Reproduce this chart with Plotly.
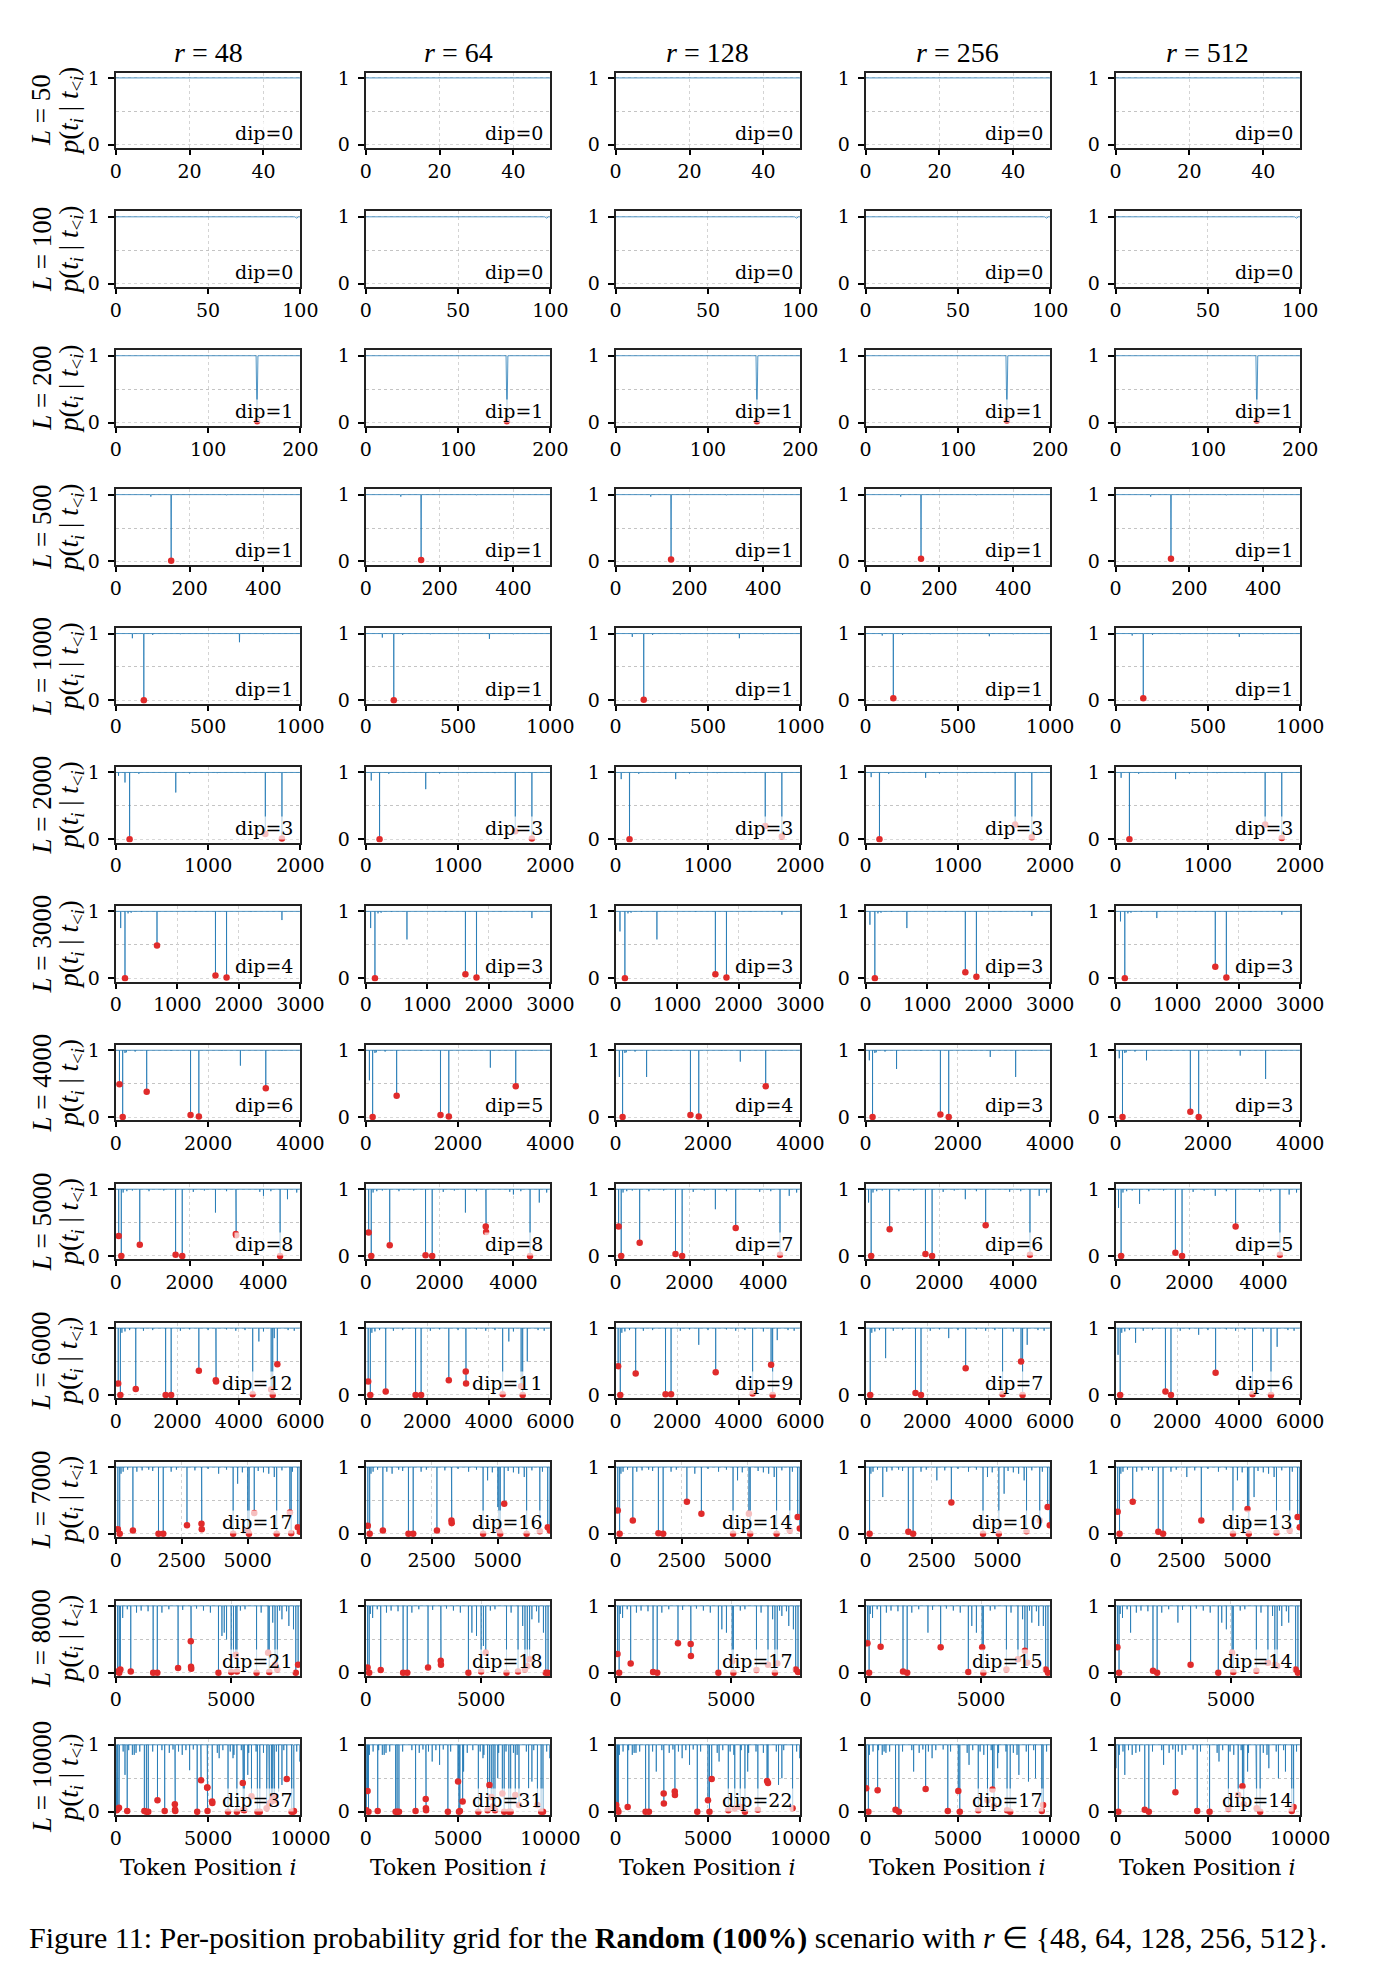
import plotly.graph_objects as go

# ---------------- data ----------------
R_VALUES = [48, 64, 128, 256, 512]
L_VALUES = [50, 100, 200, 500, 1000, 2000, 3000, 4000, 5000, 6000, 7000, 8000, 10000]
X_TICKS = [[0, 20, 40], [0, 50, 100], [0, 100, 200], [0, 200, 400], [0, 500, 1000],
           [0, 1000, 2000], [0, 1000, 2000, 3000], [0, 2000, 4000], [0, 2000, 4000],
           [0, 2000, 4000, 6000], [0, 2500, 5000], [0, 5000], [0, 5000, 10000]]
Y_TICKS = [0, 1]
DIP_COUNTS = [[0, 0, 0, 0, 0], [0, 0, 0, 0, 0], [1, 1, 1, 1, 1], [1, 1, 1, 1, 1], [1, 1, 1, 1, 1],
              [3, 3, 3, 3, 3], [4, 3, 3, 3, 3], [6, 5, 4, 3, 3], [8, 8, 7, 6, 5],
              [12, 11, 9, 7, 6], [17, 16, 14, 10, 13], [21, 18, 17, 15, 14], [37, 31, 22, 17, 14]]

# red-marked dips (position, probability) per column
DIPS_L50 = [[], [], [], [], []]
DIPS_L100 = [[], [], [], [], []]
DIPS_L200 = [[(153, 0.02)], [(153, 0.02)], [(153, 0.02)], [(153, 0.03)], [(153, 0.03)]]
DIPS_L500 = [[(150, 0.01)], [(150, 0.02)], [(150, 0.03)], [(150, 0.04)], [(150, 0.04)]]
DIPS_L1000 = [[(152, 0.0)], [(152, 0.0)], [(152, 0.01)], [(150, 0.03)], [(150, 0.03)]]
DIPS_L2000 = [[(150, 0.0), (1620, 0.08), (1800, 0.01)],
              [(150, 0.0), (1620, 0.12), (1800, 0.01)],
              [(150, 0.0), (1620, 0.2), (1800, 0.04)],
              [(150, 0.0), (1620, 0.22), (1800, 0.03)],
              [(150, 0.0), (1620, 0.22), (1800, 0.02)]]
DIPS_L3000 = [[(150, 0.0), (670, 0.49), (1620, 0.04), (1800, 0.01)],
              [(150, 0.0), (1620, 0.06), (1800, 0.01)],
              [(150, 0.0), (1620, 0.06), (1800, 0.01)],
              [(150, 0.0), (1620, 0.09), (1800, 0.02)],
              [(150, 0.0), (1620, 0.17), (1800, 0.01)]]
DIPS_L4000 = [[(80, 0.49), (150, 0.0), (670, 0.38), (1620, 0.03), (1800, 0.01), (3250, 0.43)],
              [(150, 0.0), (670, 0.32), (1620, 0.03), (1800, 0.01), (3250, 0.46)],
              [(150, 0.0), (1620, 0.03), (1800, 0.01), (3250, 0.46)],
              [(150, 0.0), (1620, 0.04), (1800, 0.0)],
              [(150, 0.0), (1620, 0.08), (1800, 0.0)]]
DIPS_L5000 = [[(80, 0.3), (150, 0.0), (650, 0.17), (1620, 0.02), (1800, 0.0), (3250, 0.33), (3260, 0.31), (4450, 0.0)],
              [(80, 0.35), (150, 0.0), (650, 0.16), (1620, 0.01), (1800, 0.0), (3250, 0.44), (3260, 0.36), (4450, 0.0)],
              [(80, 0.44), (150, 0.0), (650, 0.2), (1620, 0.03), (1800, 0.0), (3250, 0.42), (4450, 0.02)],
              [(150, 0.0), (650, 0.4), (1620, 0.03), (1800, 0.0), (3250, 0.46), (4450, 0.02)],
              [(150, 0.0), (1620, 0.05), (1800, 0.0), (3250, 0.44), (4450, 0.02)]]
DIPS_L6000 = [[(80, 0.17), (150, 0.0), (650, 0.09), (1620, 0.0), (1800, 0.0), (2700, 0.36), (3250, 0.22),
               (3260, 0.2), (4450, 0.01), (5050, 0.08), (5100, 0.0), (5250, 0.46)],
              [(80, 0.2), (150, 0.0), (650, 0.05), (1620, 0.0), (1800, 0.0), (2700, 0.22), (3250, 0.35),
               (3260, 0.17), (4450, 0.01), (5050, 0.13), (5100, 0.0)],
              [(80, 0.43), (150, 0.0), (650, 0.32), (1620, 0.01), (1800, 0.01), (3250, 0.34), (4450, 0.02),
               (5050, 0.45), (5100, 0.0)],
              [(150, 0.0), (1620, 0.03), (1800, 0.0), (3250, 0.4), (4450, 0.01), (5050, 0.5), (5100, 0.0)],
              [(150, 0.0), (1620, 0.05), (1800, 0.0), (3250, 0.33), (4450, 0.01), (5050, 0.0)]]
DIPS_L7000 = [[(80, 0.07), (150, 0.0), (650, 0.05), (1620, 0.0), (1800, 0.0), (2700, 0.13), (3250, 0.15),
               (3260, 0.07), (4450, 0.0), (5000, 0.05), (5050, 0.0), (5250, 0.31), (6100, 0.0), (6600, 0.32),
               (6650, 0.01), (6900, 0.1), (6980, 0.03)],
              [(80, 0.12), (150, 0.0), (650, 0.05), (1620, 0.0), (1800, 0.0), (2700, 0.05), (3250, 0.2),
               (3260, 0.16), (4450, 0.0), (5050, 0.05), (5100, 0.0), (5250, 0.45), (6100, 0.0), (6600, 0.04),
               (6900, 0.1), (6980, 0.05)],
              [(80, 0.35), (150, 0.0), (650, 0.2), (1620, 0.01), (1800, 0.0), (2700, 0.48), (3250, 0.3),
               (4450, 0.0), (5050, 0.3), (5100, 0.0), (6100, 0.0), (6600, 0.05), (6900, 0.25), (6980, 0.08)],
              [(150, 0.0), (1620, 0.03), (1800, 0.0), (3250, 0.47), (4450, 0.0), (5050, 0.0), (6100, 0.04),
               (6600, 0.2), (6900, 0.4), (6980, 0.13)],
              [(80, 0.33), (150, 0.0), (650, 0.48), (1620, 0.03), (1800, 0.0), (3250, 0.2), (4450, 0.0),
               (5000, 0.37), (5050, 0.0), (6100, 0.02), (6600, 0.05), (6900, 0.25), (6980, 0.1)]]
DIPS_L8000 = [[(80, 0.02), (150, 0.0), (200, 0.05), (650, 0.02), (1620, 0.0), (1800, 0.0), (2700, 0.07),
               (3250, 0.47), (3260, 0.09), (3270, 0.06), (4450, 0.0), (5000, 0.01), (5200, 0.27), (5250, 0.02),
               (6100, 0.0), (6600, 0.3), (6650, 0.01), (6900, 0.12), (7000, 0.05), (7800, 0.0), (7900, 0.12)],
              [(80, 0.08), (150, 0.0), (650, 0.04), (1620, 0.0), (1800, 0.0), (2700, 0.08), (3250, 0.18),
               (3260, 0.12), (4450, 0.0), (5000, 0.02), (5200, 0.3), (6100, 0.0), (6600, 0.02), (6900, 0.05),
               (7000, 0.1), (7100, 0.2), (7800, 0.0), (7900, 0.0)],
              [(80, 0.28), (150, 0.0), (650, 0.14), (1620, 0.01), (1800, 0.0), (2700, 0.44), (3250, 0.43),
               (3260, 0.25), (4450, 0.0), (5050, 0.17), (5100, 0.0), (6100, 0.04), (6600, 0.12), (6900, 0.0),
               (7000, 0.14), (7800, 0.05), (7900, 0.01)],
              [(80, 0.44), (150, 0.0), (650, 0.39), (1620, 0.02), (1800, 0.0), (3250, 0.38), (4450, 0.01),
               (5050, 0.38), (5100, 0.0), (6100, 0.05), (6600, 0.2), (6900, 0.33), (7000, 0.15), (7800, 0.05),
               (7900, 0.0)],
              [(80, 0.38), (150, 0.0), (1620, 0.03), (1800, 0.0), (3250, 0.12), (4450, 0.0), (5050, 0.3),
               (5100, 0.01), (6100, 0.03), (6600, 0.15), (6900, 0.12), (7000, 0.1), (7800, 0.05), (7900, 0.0)]]
DIPS_L10000 = [[(50, 0.02), (105, 0.04), (176, 0.06), (620, 0.01), (1550, 0.01), (1660, 0.0), (1760, 0.0),
                (2260, 0.17), (2650, 0.01), (3200, 0.11), (3210, 0.03), (3220, 0.01), (4410, 0.0), (4620, 0.47),
                (4950, 0.36), (4960, 0.36), (4970, 0.01), (5220, 0.15), (5230, 0.13), (6080, 0.0), (6560, 0.0),
                (6880, 0.43), (6910, 0.03), (6960, 0.02), (7350, 0.23), (7670, 0.0), (7800, 0.0), (8170, 0.05),
                (8320, 0.12), (8430, 0.15), (8500, 0.2), (8560, 0.22), (8600, 0.17), (9260, 0.49), (9520, 0.0),
                (9610, 0.0), (9650, 0.01)],
               [(30, 0.02), (100, 0.31), (150, 0.0), (650, 0.01), (1620, 0.0), (1700, 0.0), (1800, 0.0),
                (2700, 0.01), (3250, 0.19), (3260, 0.05), (3270, 0.02), (4450, 0.0), (5000, 0.45), (5050, 0.0),
                (5100, 0.01), (5250, 0.15), (6100, 0.0), (6600, 0.02), (6700, 0.4), (6800, 0.22), (6900, 0.08),
                (7000, 0.02), (7400, 0.27), (7500, 0.0), (7750, 0.0), (7850, 0.0), (8100, 0.25), (8300, 0.1),
                (9300, 0.1), (9500, 0.0), (9600, 0.0)],
               [(30, 0.1), (100, 0.03), (150, 0.0), (650, 0.07), (1620, 0.0), (1800, 0.0), (2600, 0.27),
                (2610, 0.12), (3200, 0.3), (3210, 0.25), (4420, 0.0), (5000, 0.17), (5080, 0.0), (5200, 0.49),
                (6100, 0.02), (6450, 0.05), (6750, 0.07), (7000, 0.0), (7700, 0.03), (8200, 0.46), (8250, 0.43),
                (9580, 0.05)],
               [(30, 0.35), (150, 0.0), (650, 0.32), (1620, 0.03), (1800, 0.0), (3250, 0.34), (4450, 0.01),
                (5020, 0.31), (5100, 0.0), (6100, 0.02), (6600, 0.17), (6870, 0.33), (6950, 0.09), (7660, 0.02),
                (7830, 0.0), (9540, 0.01), (9610, 0.1)],
               [(150, 0.0), (1580, 0.03), (1800, 0.0), (3240, 0.29), (4420, 0.01), (5090, 0.0), (6110, 0.04),
                (6640, 0.25), (6870, 0.38), (6940, 0.11), (7640, 0.05), (7830, 0.0), (9540, 0.01), (9640, 0.07)]]

# other (non-dip) downward spikes per column
SPIKES_L50 = [[], [], [], [], []]
SPIKES_L100 = [[], [], [], [], []]
SPIKES_L200 = [[], [], [], [], []]
SPIKES_L500 = [[], [], [], [], []]
SPIKES_L1000 = [[(90, 0.93), (670, 0.87)], [(90, 0.94), (670, 0.92)], [(90, 0.95), (670, 0.93)],
                [(90, 0.97), (670, 0.96)], [(90, 0.97), (670, 0.95)]]
SPIKES_L2000 = [[(30, 0.95), (100, 0.85), (650, 0.7)], [(60, 0.88), (650, 0.75)], [(60, 0.9), (650, 0.9)],
                [(60, 0.93), (650, 0.92)], [(60, 0.92), (650, 0.9)]]
SPIKES_L3000 = [[(80, 0.75), (2700, 0.87)], [(80, 0.75), (670, 0.58), (2700, 0.9)],
                [(70, 0.7), (670, 0.58), (2700, 0.95)], [(70, 0.8), (670, 0.75), (2700, 0.93)],
                [(80, 0.85), (670, 0.9), (2700, 0.95)]]
SPIKES_L4000 = [[(2700, 0.77)], [(80, 0.55), (2700, 0.74)], [(80, 0.6), (670, 0.6), (2700, 0.83)],
                [(80, 0.85), (670, 0.72), (2700, 0.9), (3250, 0.6)],
                [(80, 0.88), (670, 0.85), (2700, 0.92), (3250, 0.57)]]
SPIKES_L5000 = [[(2700, 0.65), (4000, 0.9), (4650, 0.85)], [(2700, 0.65), (4000, 0.92), (4700, 0.8)],
                [(2700, 0.7), (4700, 0.9)], [(80, 0.8), (2700, 0.85), (4700, 0.9)],
                [(80, 0.72), (650, 0.78), (2700, 0.9), (4700, 0.92)]]
SPIKES_L6000 = [[(4650, 0.8), (5150, 0.85)], [(2700, 0.9), (4650, 0.8), (5250, 0.5)],
                [(2700, 0.75), (5250, 0.82)], [(650, 0.55), (2700, 0.85), (5250, 0.75)],
                [(80, 0.6), (650, 0.78), (2700, 0.9), (5250, 0.72)]]
SPIKES_L7000 = [[(3900, 0.9), (4620, 0.75), (5010, 0.35), (5060, 0.4), (6010, 0.85)],
                [(1000, 0.9), (4620, 0.8), (5010, 0.4), (6010, 0.85)],
                [(3000, 0.9), (4620, 0.8), (5060, 0.6), (6010, 0.85)],
                [(650, 0.55), (2700, 0.8), (4620, 0.85), (5250, 0.6), (6010, 0.8)],
                [(2700, 0.85), (4620, 0.8), (5250, 0.55), (6010, 0.85)]]
SPIKES_L8000 = [[(4600, 0.55), (4700, 0.6), (4800, 0.5), (5100, 0.3), (6800, 0.75), (7200, 0.8), (7500, 0.7), (7700, 0.65)],
                [(4600, 0.6), (4800, 0.55), (5100, 0.4), (6800, 0.7), (7200, 0.8), (7500, 0.75), (7700, 0.6)],
                [(4600, 0.65), (4800, 0.6), (5100, 0.5), (6800, 0.8), (7200, 0.85), (7500, 0.7), (7700, 0.65)],
                [(2700, 0.6), (4600, 0.7), (4800, 0.6), (6800, 0.8), (7200, 0.75), (7500, 0.7), (7700, 0.7)],
                [(650, 0.6), (2700, 0.75), (4600, 0.75), (4800, 0.65), (6800, 0.85), (7200, 0.7), (7500, 0.75)]]
SPIKES_L10000 = [[(20, 0.6), (500, 0.55), (1000, 0.85), (3600, 0.85), (4000, 0.62), (5600, 0.8), (6350, 0.8),
                  (7150, 0.55), (8290, 0.55), (8820, 0.3), (9000, 0.4), (9970, 0.75)],
                 [(20, 0.7), (1000, 0.85), (3600, 0.75), (4000, 0.7), (5300, 0.6), (6350, 0.8), (7150, 0.5),
                  (8820, 0.35), (9000, 0.45), (9970, 0.8)],
                 [(20, 0.7), (1000, 0.88), (2200, 0.6), (3600, 0.8), (4000, 0.7), (5600, 0.75), (7150, 0.6),
                  (8820, 0.4), (9000, 0.5), (9970, 0.8)],
                 [(20, 0.8), (1000, 0.9), (2600, 0.6), (3600, 0.8), (5600, 0.7), (7150, 0.65), (8300, 0.55),
                  (8820, 0.45), (9200, 0.5)],
                 [(20, 0.65), (500, 0.55), (2600, 0.7), (3600, 0.85), (5600, 0.75), (7150, 0.6), (8300, 0.65),
                  (8820, 0.5), (9200, 0.6)]]

# small fluctuations just below 1 (same positions for all columns of a row)
NOISE_L50 = []
NOISE_L100 = [(98, 0.98)]
NOISE_L200 = []
NOISE_L500 = [(95, 0.97), (300, 0.99)]
NOISE_L1000 = [(200, 0.98), (350, 0.99), (800, 0.99)]
NOISE_L2000 = [(250, 0.98), (800, 0.985), (1100, 0.99), (1400, 0.99)]
NOISE_L3000 = [(200, 0.97), (250, 0.98), (420, 0.99), (1300, 0.99), (2200, 0.99)]
NOISE_L4000 = [(200, 0.96), (230, 0.97), (420, 0.98), (1200, 0.99), (2300, 0.99), (3600, 0.99)]
NOISE_L5000 = [(200, 0.95), (300, 0.97), (450, 0.98), (900, 0.97), (1300, 0.98), (2100, 0.96), (2400, 0.98),
               (3000, 0.97), (3900, 0.96), (4200, 0.97), (4900, 0.95)]
NOISE_L6000 = [(200, 0.93), (300, 0.95), (450, 0.97), (900, 0.96), (1200, 0.97), (2100, 0.96), (2400, 0.98),
               (3000, 0.97), (3600, 0.98), (3900, 0.96), (4200, 0.97), (4800, 0.95), (5600, 0.97), (5800, 0.96)]
NOISE_L7000 = [(200, 0.9), (280, 0.93), (450, 0.96), (800, 0.93), (1000, 0.95), (1250, 0.96), (1400, 0.94),
               (2100, 0.93), (2300, 0.96), (3000, 0.95), (3500, 0.97), (3900, 0.93), (4200, 0.96), (4800, 0.92),
               (5400, 0.94), (5600, 0.92), (5800, 0.9), (6300, 0.95), (6700, 0.93)]
NOISE_L8000 = [(200, 0.88), (300, 0.82), (500, 0.95), (900, 0.9), (1100, 0.93), (1400, 0.92), (2000, 0.9),
               (2300, 0.95), (2900, 0.94), (3500, 0.96), (3800, 0.93), (4100, 0.9), (5400, 0.93), (5600, 0.95),
               (6300, 0.9), (7100, 0.93), (7400, 0.92)]
NOISE_L10000 = [(200, 0.85), (400, 0.9), (700, 0.92), (900, 0.85), (1100, 0.88), (1300, 0.9), (2000, 0.9),
                (2500, 0.92), (2900, 0.88), (3100, 0.93), (3400, 0.9), (3800, 0.92), (4200, 0.93), (4600, 0.9),
                (5500, 0.88), (5800, 0.92), (6200, 0.9), (6400, 0.85), (6800, 0.92), (7200, 0.88), (7600, 0.9),
                (8000, 0.88), (8200, 0.85), (8700, 0.9), (9100, 0.92), (9800, 0.9)]

DIPS = [DIPS_L50, DIPS_L100, DIPS_L200, DIPS_L500, DIPS_L1000, DIPS_L2000, DIPS_L3000, DIPS_L4000,
        DIPS_L5000, DIPS_L6000, DIPS_L7000, DIPS_L8000, DIPS_L10000]
SPIKES = [SPIKES_L50, SPIKES_L100, SPIKES_L200, SPIKES_L500, SPIKES_L1000, SPIKES_L2000, SPIKES_L3000,
          SPIKES_L4000, SPIKES_L5000, SPIKES_L6000, SPIKES_L7000, SPIKES_L8000, SPIKES_L10000]
NOISE = [NOISE_L50, NOISE_L100, NOISE_L200, NOISE_L500, NOISE_L1000, NOISE_L2000, NOISE_L3000, NOISE_L4000,
         NOISE_L5000, NOISE_L6000, NOISE_L7000, NOISE_L8000, NOISE_L10000]

# ---------------- layout geometry (pixels) ----------------
W, H = 1380, 1976
LEFT0, PITCH_X, PW = 112.7, 256.65, 189.6
TOP0, PITCH_Y, PH = 67.0, 139.83, 76.0

LINE_COLOR = "rgba(31,119,180,0.78)"
DOT_COLOR = "#e02b2b"
SERIF = "DejaVu Serif, serif"
MATH_FONT = "Liberation Serif, serif"
TICK_FONT = dict(family=SERIF, size=19, color="black")

fig = go.Figure()
layout = dict(width=W, height=H, margin=dict(l=0, r=0, t=0, b=0),
              paper_bgcolor="white", plot_bgcolor="white", showlegend=False)
annotations = []

for ri, L in enumerate(L_VALUES):
    top = TOP0 + ri * PITCH_Y
    y0 = 1 - (top + PH) / H
    y1 = 1 - top / H
    for ci, r in enumerate(R_VALUES):
        k = ri * 5 + ci + 1
        sfx = "" if k == 1 else str(k)
        left = LEFT0 + ci * PITCH_X
        x0, x1 = left / W, (left + PW) / W

        dips = DIPS[ri][ci]
        depth = {}
        for x, y in list(dips) + list(SPIKES[ri][ci]) + list(NOISE[ri]):
            depth[x] = min(depth.get(x, 1.0), y)
        xs, ys = [0], [1.0]
        for x in sorted(depth):
            xs += [x - 1, x, x + 1]
            ys += [1.0, depth[x], 1.0]
        xs.append(L)
        ys.append(1.0)

        fig.add_trace(go.Scatter(x=xs, y=ys, mode="lines", line=dict(color=LINE_COLOR, width=1),
                                 xaxis="x" + sfx, yaxis="y" + sfx, hoverinfo="skip"))
        if dips:
            fig.add_trace(go.Scatter(x=[d[0] for d in dips], y=[d[1] for d in dips], mode="markers",
                                     marker=dict(color=DOT_COLOR, size=6.5, line=dict(width=0)),
                                     xaxis="x" + sfx, yaxis="y" + sfx))

        layout["xaxis" + sfx] = dict(
            domain=[x0, x1], anchor="y" + sfx, range=[0, L], tickmode="array", tickvals=X_TICKS[ri],
            ticktext=[str(v) for v in X_TICKS[ri]],
            ticks="outside", ticklen=5, tickwidth=1.5, tickcolor="black", tickfont=TICK_FONT,
            showline=True, linecolor="#222", linewidth=2, mirror=True, zeroline=False,
            showgrid=True, gridcolor="#d4d4d4", griddash="dot", gridwidth=1)
        layout["yaxis" + sfx] = dict(
            domain=[y0, y1], anchor="x" + sfx, range=[-0.05, 1.08], tickmode="array", tickvals=Y_TICKS,
            ticktext=[str(v) for v in Y_TICKS], ticklabelstandoff=4,
            ticks="outside", ticklen=6, tickwidth=1.5, tickcolor="black", tickfont=TICK_FONT,
            showline=True, linecolor="#222", linewidth=2, mirror=True, zeroline=False,
            showgrid=True, gridcolor="#d8d8d8", griddash="dot", gridwidth=1,
            minor=dict(tickmode="array", tickvals=[0.5], showgrid=True, gridcolor="#c4c4c4",
                       griddash="3px,3px", gridwidth=1, ticks=""))

        annotations.append(dict(text=f"dip={DIP_COUNTS[ri][ci]}", xref=f"x{sfx} domain", yref=f"y{sfx} domain",
                                x=0.965, y=0.04, xanchor="right", yanchor="bottom", showarrow=False,
                                font=dict(family=SERIF, size=19, color="black"),
                                bgcolor="rgba(255,255,255,0.7)", borderpad=0))

        if ri == 0:
            annotations.append(dict(text=f"<i>r</i> = {r}", xref="paper", yref="paper",
                                    x=(left + PW / 2) / W, y=1 - 46.7 / H, xanchor="center", yanchor="middle",
                                    showarrow=False, font=dict(family=MATH_FONT, size=28, color="black")))
        if ri == len(L_VALUES) - 1:
            annotations.append(dict(text="Token Position <i>i</i>", xref="paper", yref="paper",
                                    x=(left + PW / 2) / W, y=1 - 1874 / H, xanchor="center", yanchor="middle",
                                    showarrow=False, font=dict(family=SERIF, size=22, color="black")))

    yc = 1 - (top + PH / 2) / H
    annotations.append(dict(text=f"<i>L</i> = {L}", xref="paper", yref="paper", x=36.7 / W, y=yc,
                            xanchor="center", yanchor="middle", textangle=-90, showarrow=False,
                            font=dict(family=MATH_FONT, size=27, color="black")))
    annotations.append(dict(text="<i>p</i>(<i>t<sub>i</sub></i> | <i>t</i><sub>&lt;<i>i</i></sub>)",
                            xref="paper", yref="paper", x=66.7 / W, y=yc,
                            xanchor="center", yanchor="middle", textangle=-90, showarrow=False,
                            font=dict(family=MATH_FONT, size=27, color="black")))

annotations.append(dict(
    text="Figure 11: Per-position probability grid for the <b>Random (100%)</b> scenario with "
         "<i>r</i> ∈ {48, 64, 128, 256, 512}.",
    xref="paper", yref="paper", x=0.5, y=1 - 1945 / H, xanchor="center", yanchor="middle",
    showarrow=False, font=dict(family="Liberation Serif, serif", size=30, color="black")))

layout["annotations"] = annotations
fig.update_layout(**layout)
fig.write_html("out.html")
